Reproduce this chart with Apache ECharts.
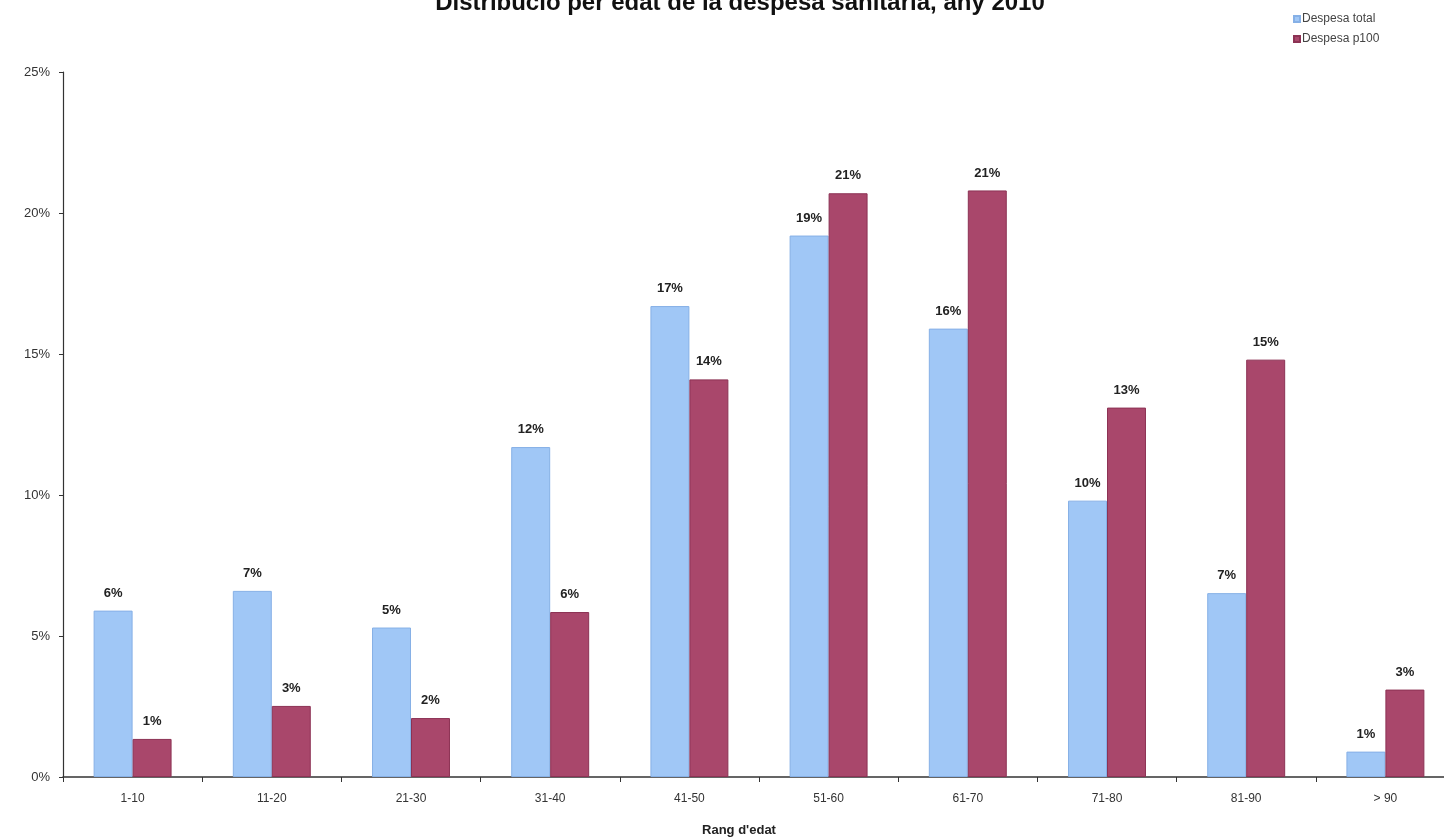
<!DOCTYPE html>
<html>
<head>
<meta charset="utf-8">
<script src="https://cdn.jsdelivr.net/npm/echarts@6/dist/echarts.min.js"></script>
<style>
html,body{margin:0;padding:0;background:#fff;}
#chart{width:1444px;height:839px;}
</style>
</head>
<body>
<div id="chart"></div>
<script>
const titleText = "Distribució per edat de la despesa sanitària, any 2010";
const categories = ["1-10","11-20","21-30","31-40","41-50","51-60","61-70","71-80","81-90","> 90"];
const seriesNames = ["Despesa total","Despesa p100"];
const despesaTotal = [5.9, 6.6, 5.3, 11.7, 16.7, 19.2, 15.9, 9.8, 6.52, 0.9];
const despesaP100 = [1.35, 2.52, 2.09, 5.85, 14.1, 20.7, 20.8, 13.1, 14.8, 3.1];
const yTicks = [0, 5, 10, 15, 20, 25];

const chart = echarts.init(document.getElementById('chart'));
const labelStyle = {
  show: true, position: 'top', distance: 11,
  fontFamily: 'Liberation Sans, Arial, sans-serif', fontWeight: 'bold', fontSize: 13, color: '#222',
  formatter: p => Math.round(p.value) + '%'
};
chart.setOption({
  backgroundColor: '#fff',
  animation: false,
  title: {
    text: titleText, left: 735, top: -14, textAlign: 'center',
    textStyle: {fontFamily: 'Liberation Sans, Arial, sans-serif', fontWeight: 'bold', fontSize: 24, color: '#111'}
  },
  legend: {
    orient: 'vertical', left: 1288, top: 8, itemWidth: 6, itemHeight: 6, itemGap: 8,
    icon: 'rect',
    textStyle: {fontFamily: 'Liberation Sans, Arial, sans-serif', fontSize: 12, color: '#444', padding: [0,0,0,-3]}
  },
  grid: {left: 63, top: 72, width: 1392, height: 705, containLabel: false, outerBoundsMode: 'none'},
  xAxis: {
    type: 'category', data: categories,
    name: "Rang d'edat", nameLocation: 'middle', nameGap: 47,
    nameTextStyle: {fontFamily: 'Liberation Sans, Arial, sans-serif', fontWeight: 'bold', fontSize: 13, color: '#222', padding: [0,40,0,0]},
    axisLine: {lineStyle: {color: '#333', width: 1.5}},
    axisTick: {show: true, length: 5, lineStyle: {color: '#333'}},
    axisLabel: {margin: 16, fontFamily: 'Liberation Sans, Arial, sans-serif', fontSize: 12, color: '#333'}
  },
  yAxis: {
    type: 'value', min: 0, max: 25, interval: 5,
    axisLine: {show: true, lineStyle: {color: '#333', width: 1.2}},
    axisTick: {show: true, length: 4, lineStyle: {color: '#333'}},
    splitLine: {show: false},
    axisLabel: {margin: 13, fontFamily: 'Liberation Sans, Arial, sans-serif', fontSize: 13, color: '#333',
      formatter: v => yTicks.includes(v) ? v + '%' : ''}
  },
  series: [
    {
      name: seriesNames[0], type: 'bar', data: despesaTotal,
      barGap: '0%', barCategoryGap: '44%',
      itemStyle: {color: '#a0c7f6', borderColor: '#86b0e6', borderWidth: 1},
      label: labelStyle
    },
    {
      name: seriesNames[1], type: 'bar', data: despesaP100,
      itemStyle: {color: '#a9476b', borderColor: '#8c3254', borderWidth: 1},
      label: labelStyle
    }
  ]
});
</script>
</body>
</html>
